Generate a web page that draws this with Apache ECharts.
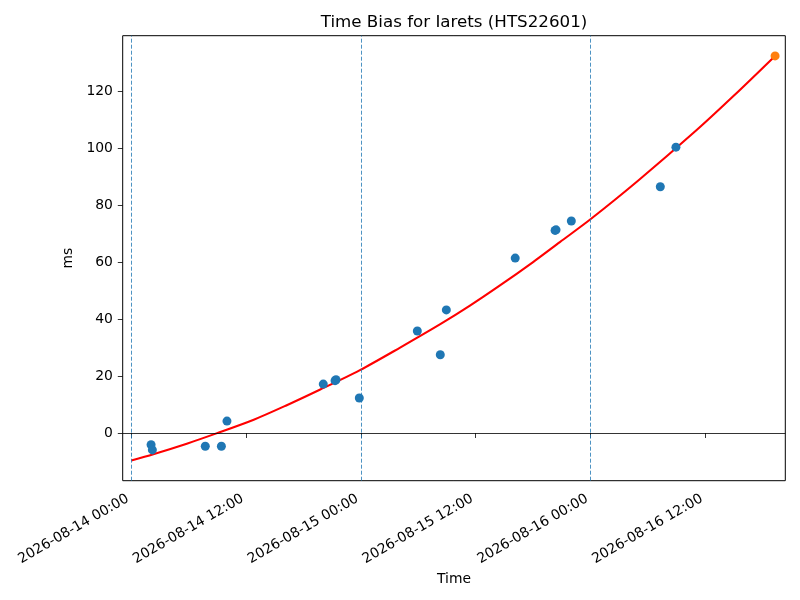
<!DOCTYPE html>
<html>
<head>
<meta charset="utf-8">
<title>Time Bias for Iarets (HTS22601)</title>
<script src="https://cdn.jsdelivr.net/npm/echarts@6/dist/echarts.min.js"></script>
<style>
  html, body { margin: 0; padding: 0; background: #fff; }
  #chart { width: 800px; height: 600px; }
</style>
</head>
<body>
<div id="chart"></div>
<script>
// measured time bias points (local time, ms)
var pointTimes = ['2026-08-14 02:04', '2026-08-14 02:12', '2026-08-14 07:44', '2026-08-14 09:25',
    '2026-08-14 10:00', '2026-08-14 20:04', '2026-08-14 21:18', '2026-08-14 21:24',
    '2026-08-14 23:50', '2026-08-15 05:54', '2026-08-15 08:18', '2026-08-15 08:56',
    '2026-08-15 16:08', '2026-08-15 20:18', '2026-08-15 20:24', '2026-08-15 22:00',
    '2026-08-16 07:18', '2026-08-16 08:56'];
var pointBias = [-4.1, -5.9, -4.6, -4.6, 4.2, 17.2, 18.4, 18.7, 12.3, 35.8, 27.5, 43.2,
    61.4, 71.1, 71.3, 74.4, 86.4, 100.3];

// last (predicted) point
var predTimes = ['2026-08-16 19:18'];
var predBias = [132.3];

// fitted curve
var fitTimes = ['2026-08-14 00:00', '2026-08-14 02:18', '2026-08-14 05:48', '2026-08-14 08:54',
    '2026-08-14 12:48', '2026-08-14 16:12', '2026-08-14 19:42', '2026-08-14 23:54',
    '2026-08-15 04:06', '2026-08-15 08:18', '2026-08-15 11:24', '2026-08-15 14:30',
    '2026-08-15 18:00', '2026-08-15 20:48', '2026-08-16 00:00', '2026-08-16 05:00',
    '2026-08-16 11:06', '2026-08-16 15:00', '2026-08-16 19:18'];
var fitBias = [-9.6, -7.4, -3.7, -0.1, 4.7, 9.7, 15.2, 22.1, 30.0, 38.2, 44.7, 51.7,
    60.0, 67.0, 75.0, 88.6, 106.3, 118.4, 132.3];

// axes
var tickTimes = ['2026-08-14 00:00', '2026-08-14 12:00', '2026-08-15 00:00',
    '2026-08-15 12:00', '2026-08-16 00:00', '2026-08-16 12:00'];
var dayLines = ['2026-08-14 00:00', '2026-08-15 00:00', '2026-08-16 00:00'];
var yTicks = [0, 20, 40, 60, 80, 100, 120];
var xRange = ['2026-08-13 23:06', '2026-08-16 20:22'];
var yRange = [-16.7, 139.4];

function toTime(s) {
    var p = s.split(/[- :]/);
    return new Date(+p[0], p[1] - 1, +p[2], +p[3], +p[4]).getTime();
}
function pairs(ts, vs) {
    return ts.map(function (t, i) { return [toTime(t), vs[i]]; });
}

var font = 'DejaVu Sans';
var tickVals = tickTimes.map(toTime);

var chart = echarts.init(document.getElementById('chart'), null, { renderer: 'canvas' });
chart.setOption({
    animation: false,
    backgroundColor: '#fff',
    title: {
        text: 'Time Bias for Iarets (HTS22601)',
        left: 454,
        textAlign: 'center',
        top: 14,
        padding: 0,
        textStyle: { fontFamily: font, fontSize: 16.7, fontWeight: 'normal', color: '#000' }
    },
    grid: {
        left: 122.7, right: 14.7, top: 35.7, bottom: 119.3,
        show: true, borderColor: '#000', borderWidth: 1, containLabel: false
    },
    xAxis: {
        type: 'value',
        min: toTime(xRange[0]),
        max: toTime(xRange[1]),
        splitLine: { show: false },
        axisLine: { show: false },
        axisTick: { show: true, customValues: tickVals, length: 4.9, lineStyle: { color: '#000', width: 0.8 } },
        axisLabel: {
            customValues: tickVals,
            rotate: 30,
            margin: 15,
            padding: [0, 4, 0, 0],
            fontFamily: font, fontSize: 13.9, color: '#000',
            formatter: function (v) {
                var i = tickVals.indexOf(v);
                return i >= 0 ? tickTimes[i] : '';
            }
        },
        name: 'Time',
        nameLocation: 'middle',
        nameGap: 89,
        nameTextStyle: { fontFamily: font, fontSize: 13.9, color: '#000' }
    },
    yAxis: {
        type: 'value',
        min: yRange[0],
        max: yRange[1],
        splitLine: { show: false },
        axisLine: { show: false },
        axisTick: { show: true, customValues: yTicks, length: 4.9, lineStyle: { color: '#000', width: 0.8 } },
        axisLabel: { customValues: yTicks, margin: 9.8, fontFamily: font, fontSize: 13.9, color: '#000' },
        name: 'ms',
        nameLocation: 'middle',
        nameRotate: 90,
        nameGap: 34,
        nameTextStyle: { fontFamily: font, fontSize: 13.9, color: '#000' }
    },
    series: [
        {
            name: 'fit',
            type: 'line',
            data: pairs(fitTimes, fitBias),
            smooth: 0.3,
            showSymbol: false,
            lineStyle: { color: '#ff0000', width: 2.1 },
            z: 3,
            markLine: {
                silent: true,
                symbol: ['none', 'none'],
                label: { show: false },
                data: dayLines.map(function (t) {
                    return { xAxis: toTime(t), lineStyle: { color: '#1f77b4', width: 0.8, type: [4, 2] } };
                }).concat([{ yAxis: 0, lineStyle: { color: '#000', width: 0.8, type: 'solid' } }])
            }
        },
        {
            name: 'bias',
            type: 'scatter',
            data: pairs(pointTimes, pointBias),
            symbolSize: 9,
            itemStyle: { color: '#1f77b4', opacity: 1 },
            z: 4
        },
        {
            name: 'predicted',
            type: 'scatter',
            data: pairs(predTimes, predBias),
            symbolSize: 9,
            itemStyle: { color: '#ff7f0e', opacity: 1 },
            z: 4
        }
    ]
});
</script>
</body>
</html>
